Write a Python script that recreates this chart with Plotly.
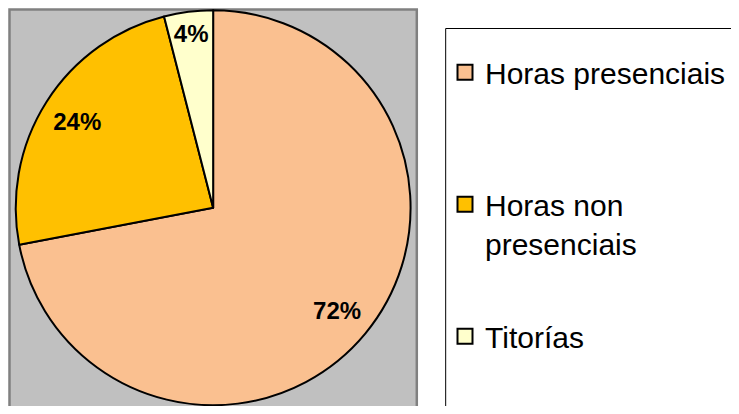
import plotly.graph_objects as go

categories = ["Horas presenciais", "Horas non presenciais", "Titorías"]
legend_names = ["Horas presenciais", "Horas non<br>presenciais", "Titorías"]
values = [72, 24, 4]
colors = ["#FAC090", "#FFC000", "#FFFFCC"]

W, H = 723, 398  # page body has an 8px margin

pie_domain = dict(x=[7.75 / W, 404.25 / W], y=[0, 1 - 1.5 / H])

fig = go.Figure()

# the pie itself
fig.add_trace(go.Pie(
    labels=categories, values=values, sort=False,
    direction="clockwise", rotation=0,
    marker=dict(colors=colors, line=dict(color="#000000", width=2)),
    textinfo="none", showlegend=False, domain=pie_domain,
    hoverinfo="label+percent",
))

# transparent ring on top, only used to place the percentage labels
fig.add_trace(go.Pie(
    labels=categories, values=values, sort=False,
    direction="clockwise", rotation=0, hole=0.63,
    marker=dict(colors=["rgba(0,0,0,0)"] * len(values), line=dict(width=0)),
    texttemplate="%{percent:.0%}", textposition="inside",
    insidetextorientation="horizontal",
    textfont=dict(family="Liberation Sans, Arial", size=24, color="#000000", weight="bold"),
    showlegend=False, domain=pie_domain, hoverinfo="skip",
))

# legend entries (same colours as the slices)
pads = ["<br> ", "", "<br> "]
for name, col, pad, cat in zip(legend_names, colors, pads, categories):
    fig.add_trace(go.Scatter(
        x=[None], y=[None], mode="markers",
        name=name + pad, legendgroup=cat,
        marker=dict(symbol="square", size=15, color=col, line=dict(color="#000000", width=2)),
    ))

fig.update_layout(
    width=W, height=H,
    margin=dict(l=0, r=0, t=0, b=0),
    paper_bgcolor="#FFFFFF",
    plot_bgcolor="rgba(0,0,0,0)",
    xaxis=dict(visible=False),
    yaxis=dict(visible=False),
    font=dict(family="Liberation Sans, Arial", color="#000000"),
    legend=dict(
        x=439 / W, y=1 - 20 / H, xanchor="left", yanchor="top",
        bgcolor="rgba(0,0,0,0)", borderwidth=0,
        font=dict(family="Liberation Sans, Arial", size=30, color="#000000"),
        title=dict(text="\u00a0", font=dict(size=14)),
        valign="top",
        traceorder="grouped",
        tracegroupgap=51,
        itemclick=False, itemdoubleclick=False,
    ),
    shapes=[
        dict(  # grey plot area
            type="rect", xref="paper", yref="paper",
            x0=1.5 / W, x1=410.5 / W, y0=1 - 1.5 / H, y1=-0.2,
            fillcolor="#C0C0C0", line=dict(color="#808080", width=2.5),
            layer="below",
        ),
        dict(  # legend frame (runs off the page to the right and bottom)
            type="rect", xref="paper", yref="paper",
            x0=439.5 / W, x1=1.2, y0=1 - 20.5 / H, y1=-0.2,
            fillcolor="#FFFFFF", line=dict(color="#000000", width=1),
            layer="below",
        ),
    ],
)

fig.write_html("out.html")
